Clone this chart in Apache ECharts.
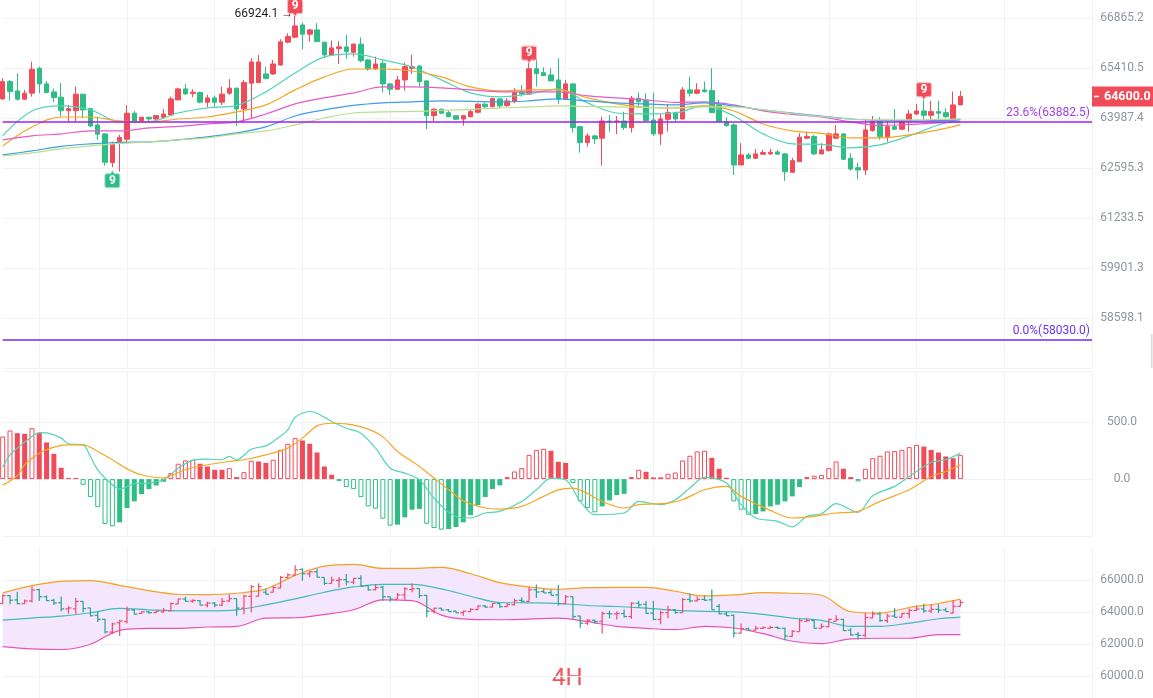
<!DOCTYPE html>
<html lang="en">
<head>
<meta charset="UTF-8">
<title>4H</title>
<script src="https://cdn.jsdelivr.net/npm/echarts@6/dist/echarts.min.js"></script>
<style>
    html, body { margin: 0; padding: 0; background: #fff; }
    #main { width: 1153px; height: 698px; }
</style>
</head>
<body>
<div id="main"></div>
<script>
// x slots (the right part of the axis stays empty)
const categories = Array.from({ length: 150 }, (_, i) => String(i));

// candles: [open, close, low, high]
const candles = [
    [64528, 65020, 64499, 65117], [65020, 64736, 64479, 65068], [64755, 64519, 64479, 65259], [64519, 64690, 64499, 64784],
    [64690, 65373, 64593, 65594], [65401, 64955, 64690, 65448], [64955, 64707, 64690, 65040], [64727, 64565, 64434, 64821],
    [64576, 64195, 64024, 64975], [64195, 64252, 63884, 64357], [64195, 64662, 63884, 64878], [64662, 64215, 63979, 64670],
    [64252, 63764, 63728, 64252], [63792, 63533, 63375, 64024], [63542, 62754, 62660, 63561], [62743, 63255, 62615, 63327],
    [63327, 63439, 62494, 63514], [63394, 64122, 63283, 64349], [64122, 63867, 63840, 64186], [63912, 64008, 63884, 64024],
    [64008, 63960, 63884, 64024], [63960, 64053, 63932, 64072], [64008, 64101, 63960, 64243], [64072, 64528, 64053, 64593],
    [64499, 64812, 64499, 64849], [64812, 64670, 64642, 64946], [64679, 64718, 64576, 64804], [64707, 64434, 64405, 64736],
    [64434, 64556, 64292, 64642], [64556, 64434, 64292, 64622], [64434, 64662, 64357, 64878], [64690, 64832, 64642, 65088],
    [64832, 64243, 63764, 64849], [64243, 64992, 63857, 65068], [64975, 65585, 63979, 65693], [64992, 65585, 64975, 65789],
    [65239, 65106, 65097, 65448], [65239, 65527, 65211, 65643], [65498, 66167, 65478, 66245], [66158, 66321, 66129, 66420],
    [66304, 66632, 66275, 66924.1], [66661, 66391, 65955, 66728], [66391, 66516, 66176, 66545], [66516, 66176, 66158, 66711],
    [66158, 65789, 65693, 66158], [65789, 65992, 65789, 66205], [65972, 66021, 65527, 66187], [66021, 65885, 65672, 66379],
    [65867, 66100, 65739, 66129], [66100, 65623, 65576, 66292], [65643, 65382, 65333, 65663], [65390, 65527, 65353, 65739],
    [65547, 64955, 64707, 65643], [64955, 64804, 64642, 64975], [64804, 65068, 64784, 65182], [65068, 65448, 64764, 65565],
    [65401, 65448, 65239, 65789], [65468, 65020, 64861, 65488], [65040, 64053, 63672, 65068], [64053, 64235, 63884, 64263],
    [64235, 64122, 64101, 64263], [64138, 64024, 64008, 64186], [64053, 63951, 63932, 64072], [63960, 64053, 63773, 64072],
    [64024, 64167, 64008, 64235], [64149, 64377, 64122, 64405], [64377, 64309, 64263, 64423], [64309, 64536, 64292, 64565],
    [64528, 64329, 64263, 64548], [64337, 64471, 64309, 64548], [64451, 64707, 64405, 64832], [64727, 64670, 64593, 64926],
    [64662, 65390, 64642, 65565], [65390, 65248, 64878, 65722], [65277, 65191, 65182, 65430], [65211, 65040, 65040, 65401],
    [65068, 64519, 64386, 65693], [64519, 64955, 64499, 65068], [64955, 63717, 63578, 64975], [63745, 63299, 63021, 63764],
    [63299, 63486, 63188, 63561], [63486, 63402, 63263, 63514], [63422, 63904, 62660, 64024], [63904, 63884, 63606, 64072],
    [63884, 63904, 63533, 64044], [63904, 63717, 63653, 64167], [63717, 64548, 63578, 64613], [64548, 64451, 64281, 64707],
    [64480, 63912, 63884, 64690], [63932, 63542, 63486, 64707], [63542, 63960, 63235, 64101], [63951, 64138, 63606, 64386],
    [64138, 63960, 63884, 64167], [63960, 64784, 63951, 64861], [64784, 64690, 64593, 65163], [64690, 64784, 64662, 64975],
    [64784, 64736, 64707, 65020], [64764, 64138, 64138, 65401], [64357, 63884, 63867, 64499], [63884, 63773, 63745, 64008],
    [63792, 62679, 62404, 63840], [62679, 62957, 62679, 63283], [62957, 62865, 62846, 63013], [62865, 62985, 62846, 63124],
    [62977, 63021, 62957, 63096], [62985, 63032, 62957, 63124], [63040, 62977, 62957, 63096], [62985, 62494, 62241, 63013],
    [62478, 62798, 62451, 62874], [62771, 63450, 62771, 63561], [63422, 63467, 63402, 63606], [63467, 62985, 62957, 63514],
    [62985, 63096, 62977, 63283], [63077, 63542, 63049, 63578], [63422, 63542, 63402, 63792], [63542, 62837, 62818, 63561],
    [62865, 62568, 62522, 63004], [62604, 62541, 62287, 62743], [62541, 63653, 62404, 63932], [63634, 63884, 63606, 64044],
    [63884, 63467, 63375, 64008], [63467, 63745, 63327, 63884], [63745, 63672, 63653, 64243], [63672, 63904, 63653, 63932],
    [63904, 64101, 63606, 64215], [64101, 64186, 64072, 64386], [64186, 64064, 63932, 64519], [64064, 64167, 63932, 64471],
    [64167, 64122, 63932, 64480], [64138, 64024, 63996, 64263], [63932, 64357, 63912, 64736], [64357, 64600, 64349, 64755]
];

const mainTickLabels = ['58598.1', '59901.3', '61233.5', '62595.3', '63987.4', '65410.5', '66865.2'];

// moving averages / bollinger read every 4th candle
const sampleIdx = [0, 4, 8, 12, 16, 20, 24, 28, 32, 36, 40, 44, 48, 52, 56, 60, 64, 68, 72, 76, 80, 84, 88, 92, 96, 100, 104, 108, 112, 116, 120, 124, 128, 131];
const maTeal = [63486, 64186, 64329, 64215, 63884, 63884, 64129, 64272, 64343, 64727, 65268, 65731, 65818, 65643, 65439, 65069, 64699, 64585, 64670, 64812, 64414, 64129, 64101, 64129, 64329, 64044, 63542, 63263, 63249, 63152, 63235, 63486, 63792, 63960];
const maOrange = [63207, 63737, 64015, 64015, 63904, 63876, 63959, 64015, 64158, 64357, 64784, 65154, 65382, 65382, 65325, 65154, 64869, 64755, 64784, 64784, 64556, 64385, 64286, 64272, 64329, 64186, 63820, 63625, 63555, 63430, 63430, 63514, 63653, 63792];
const maPink = [63375, 63486, 63542, 63625, 63625, 63709, 63750, 63820, 63876, 64101, 64386, 64556, 64699, 64869, 64869, 64841, 64784, 64727, 64727, 64727, 64613, 64556, 64499, 64428, 64442, 64357, 64186, 64087, 64015, 63876, 63779, 63806, 63848, 63876];
const maBlue = [62957, 63068, 63194, 63263, 63305, 63319, 63375, 63458, 63569, 63737, 64044, 64215, 64343, 64414, 64442, 64471, 64457, 64442, 64471, 64528, 64471, 64414, 64386, 64357, 64414, 64329, 64215, 64129, 64044, 63960, 63918, 63904, 63918, 63932];
const maLime = [62929, 63013, 63124, 63208, 63277, 63319, 63375, 63430, 63542, 63625, 63792, 63987, 64129, 64158, 64172, 64201, 64229, 64272, 64300, 64329, 64314, 64300, 64286, 64272, 64300, 64300, 64215, 64115, 64030, 63960, 63932, 63932, 63946, 63960];

const bbUpper = [65193, 65648, 65917, 65959, 65669, 65338, 65110, 65090, 65172, 65441, 66290, 66869, 66972, 66724, 66724, 66786, 66393, 65834, 65565, 65421, 65524, 65545, 65545, 65296, 65007, 65069, 65214, 65172, 65048, 64014, 63931, 64283, 64531, 64800];
const bbMid = [63496, 63620, 63745, 63952, 64221, 64138, 64076, 64076, 64138, 64448, 64821, 65234, 65565, 65731, 65731, 65441, 64986, 64593, 64572, 64531, 64407, 64345, 64241, 64097, 64034, 64014, 63848, 63620, 63476, 63103, 63103, 63310, 63579, 63683];
const bbLower = [61841, 61696, 61655, 61986, 62855, 62979, 62979, 63062, 63103, 63620, 63641, 63848, 64138, 64759, 64717, 63807, 63538, 63517, 63559, 63620, 63393, 63103, 62979, 62896, 63103, 62999, 62648, 62172, 62027, 62317, 62358, 62358, 62586, 62586];

const fibLevels = [
    { name: '23.6%', value: 63882.5 },
    { name: '0.0%', value: 58030.0 }
];
const lastPrice = 64600.0;
const peakIdx = 40;
const sellNine = [40, 72, 126];
const buyNine = [15];

const macdHist = [
    374, 427, 404, 398, 447, 404, 322, 222, 99, 9, 9, -50, -158, -246, -395, -415, -380, -254, -196, -132,
    -88, -56, -23, 53, 135, 164, 170, 135, 111, 82, 82, 96, 18, 61, 161, 155, 143, 170, 257, 310,
    360, 339, 310, 234, 111, 38, -18, -70, -88, -158, -240, -260, -348, -409, -400, -336, -269, -262, -392, -430,
    -444, -439, -421, -380, -316, -228, -158, -88, -55, 18, 67, 96, 213, 257, 266, 249, 152, 143, -35, -196,
    -254, -292, -240, -187, -140, -129, 18, 82, 64, 15, 15, 47, 58, 164, 205, 243, 249, 187, 91, 12,
    -196, -269, -313, -307, -284, -240, -225, -196, -152, -70, 18, 29, 35, 96, 155, 91, 18, -20, 91, 184,
    205, 243, 246, 257, 281, 301, 286, 257, 234, 199, 184, 213
];
// [candle index, value]
const macdDif = [[0, 105], [1, 213], [2, 272], [4, 374], [5, 409], [6, 406], [8, 360], [9, 310], [11, 301], [12, 199], [13, 82], [15, -50], [16, -88], [18, -41], [20, -35], [22, -6], [24, 96], [26, 164], [28, 175], [30, 170], [31, 199], [32, 170], [34, 263], [36, 292], [37, 330], [39, 433], [40, 544], [42, 594], [43, 579], [45, 506], [47, 447], [49, 404], [51, 272], [53, 96], [55, 53], [57, -6], [59, -167], [61, -292], [63, -342], [64, -342], [66, -298], [68, -284], [71, -196], [73, -94], [75, 9], [77, -6], [79, -196], [81, -313], [85, -298], [87, -196], [90, -225], [92, -181], [94, -79], [96, 18], [99, -35], [101, -225], [103, -342], [106, -371], [108, -421], [110, -327], [112, -304], [114, -216], [117, -292], [119, -146], [122, -64], [124, 23], [127, 146], [129, 170], [131, 228]];
const macdDea = [[0, -53], [2, 30], [3, 126], [5, 228], [7, 281], [9, 301], [11, 301], [13, 243], [15, 170], [17, 90], [19, 38], [22, 9], [23, 29], [25, 82], [28, 126], [31, 155], [33, 170], [36, 213], [39, 272], [41, 360], [43, 468], [45, 491], [47, 485], [50, 439], [52, 371], [54, 243], [57, 111], [59, 9], [61, -94], [63, -191], [66, -254], [68, -263], [71, -240], [74, -152], [76, -94], [78, -79], [82, -196], [85, -254], [87, -225], [91, -211], [93, -181], [96, -94], [99, -64], [101, -152], [105, -275], [108, -342], [111, -327], [114, -298], [117, -284], [120, -196], [124, -94], [127, 23], [129, 67], [131, 126]];

// ---- chart ----
const RED = '#f04b59';
const GREEN = '#2ebd85';
const GRID_LINE = '#f1f2f4';
const LABEL = '#8e959f';

// main panel is a log scale: one tick step per label
const Y_BASE = 58598.1;
const Y_STEP = Math.log(66865.2 / 58598.1) / 6;
const ty = p => Math.log(p / Y_BASE) / Y_STEP;

const pairs = (vals, f) => sampleIdx.map((i, k) => [i, f ? f(vals[k]) : vals[k]]);

function xAxisFor(gridIndex) {
    return {
        type: 'category', gridIndex: gridIndex, data: categories, boundaryGap: false,
        axisLine: { show: false }, axisTick: { show: false }, axisLabel: { show: false },
        splitLine: { show: true, interval: (i) => (i - 5) % 12 === 0, lineStyle: { color: GRID_LINE } }
    };
}

function maLine(name, vals, color) {
    return {
        name: name, type: 'line', xAxisIndex: 0, yAxisIndex: 0,
        data: pairs(vals, ty), smooth: 0.35, showSymbol: false, silent: true,
        lineStyle: { color: color, width: 1.2 }, z: 3
    };
}

const sellPath = 'path://M2,0 H13 A2,2 0 0 1 15,2 V12 A2,2 0 0 1 13,14 H9.5 L7.5,17 L5.5,14 H2 A2,2 0 0 1 0,12 V2 A2,2 0 0 1 2,0 Z';
const buyPath = 'path://M7.5,0 L9.5,3 H13 A2,2 0 0 1 15,5 V15 A2,2 0 0 1 13,17 H2 A2,2 0 0 1 0,15 V5 A2,2 0 0 1 2,3 H5.5 Z';

const histData = macdHist.map((v, i) => {
    const prev = i > 0 ? macdHist[i - 1] : 0;
    const col = v >= 0 ? RED : GREEN;
    const hollow = i === 0 || prev * v < 0 || Math.abs(v) > Math.abs(prev);
    return {
        value: v,
        itemStyle: hollow ? { color: '#fff', borderColor: col, borderWidth: 1 } : { color: col }
    };
});

const chart = echarts.init(document.getElementById('main'));
chart.setOption({
    animation: false,
    backgroundColor: '#fff',
    textStyle: { fontFamily: 'Roboto, sans-serif' },
    grid: [
        { left: 2.7, right: 61, top: 0, height: 368 },
        { left: 2.7, right: 61, top: 371, height: 165 },
        { left: 2.7, right: 61, top: 548, height: 128 },
        { left: 2.7, right: 61, top: 676, height: 22 }
    ],
    xAxis: [xAxisFor(0), xAxisFor(1), xAxisFor(2), xAxisFor(3)],
    yAxis: [
        {
            type: 'value', gridIndex: 0, position: 'right', min: -1, max: 6.36, interval: 1,
            axisLine: { show: false }, axisTick: { show: false },
            axisLabel: {
                margin: 30, align: 'center', color: LABEL, fontSize: 12,
                formatter: v => {
                    const k = Math.round(v);
                    return (Math.abs(v - k) < 1e-6 && k >= 0 && k < mainTickLabels.length) ? mainTickLabels[k] : '';
                }
            },
            splitLine: { lineStyle: { color: GRID_LINE }, showMaxLine: false }
        },
        {
            type: 'value', gridIndex: 1, position: 'right', min: -500, max: 950, interval: 500,
            axisLine: { show: false }, axisTick: { show: false },
            axisLabel: {
                margin: 30, align: 'center', color: LABEL, fontSize: 12,
                formatter: v => (v === 0 || v === 500) ? v.toFixed(1) : ''
            },
            splitLine: { lineStyle: { color: GRID_LINE } }
        },
        {
            type: 'value', gridIndex: 2, position: 'right', min: 60000, max: 68000, interval: 2000,
            axisLine: { show: false }, axisTick: { show: false },
            axisLabel: {
                margin: 30, align: 'center', color: LABEL, fontSize: 12,
                formatter: v => (v >= 60000 && v <= 66000) ? v.toFixed(1) : ''
            },
            splitLine: { lineStyle: { color: GRID_LINE }, showMaxLine: false }
        },
        { type: 'value', gridIndex: 3, min: 0, max: 1, show: false }
    ],
    series: [
        {
            name: 'K', type: 'candlestick', xAxisIndex: 0, yAxisIndex: 0,
            data: candles.map(c => c.map(ty)), barWidth: 5,
            itemStyle: { color: RED, color0: GREEN, borderColor: RED, borderColor0: GREEN, borderWidth: 1 },
            markPoint: {
                symbol: 'circle', symbolSize: 0, silent: true,
                data: [{
                    coord: [peakIdx, ty(candles[peakIdx][3])],
                    label: {
                        show: true, position: 'left', distance: 2, offset: [0, -2],
                        color: '#1f1f1f', fontSize: 12,
                        formatter: candles[peakIdx][3].toFixed(1) + ' →'
                    }
                }]
            },
            markLine: {
                symbol: 'none', silent: true, animation: false,
                data: [
                    {
                        yAxis: ty(fibLevels[0].value),
                        lineStyle: { color: '#a21ff0', width: 1.5, type: 'solid' },
                        label: { position: 'insideEndTop', color: '#a43de8', fontSize: 12, distance: [2, 3],
                            formatter: fibLevels[0].name + '(' + fibLevels[0].value.toFixed(1) + ')' }
                    },
                    {
                        yAxis: ty(fibLevels[1].value),
                        lineStyle: { color: '#7427f3', width: 1.5, type: 'solid' },
                        label: { position: 'insideEndTop', color: '#6f34f0', fontSize: 12, distance: [2, 3],
                            formatter: fibLevels[1].name + '(' + fibLevels[1].value.toFixed(1) + ')' }
                    },
                    {
                        yAxis: ty(lastPrice),
                        lineStyle: { width: 0, color: 'rgba(0,0,0,0)' },
                        label: {
                            show: true, position: 'end', distance: 0,
                            backgroundColor: RED, padding: [3, 9, 3, 2],
                            formatter: '{d|}{v|' + lastPrice.toFixed(1) + '}',
                            rich: {
                                d: { width: 5, height: 1.5, backgroundColor: '#fff' },
                                v: { color: '#fff', fontWeight: 'bold', fontSize: 12.5, padding: [0, 0, 0, 5], lineHeight: 14 }
                            }
                        }
                    }
                ]
            },
            z: 2
        },
        maLine('MA1', maTeal, '#52d4b8'),
        maLine('MA2', maOrange, '#f5a623'),
        maLine('MA3', maPink, '#e65bc9'),
        maLine('MA4', maBlue, '#3d9de6'),
        maLine('MA5', maLime, '#b7e08e'),
        {
            name: 'sell9', type: 'scatter', xAxisIndex: 0, yAxisIndex: 0, silent: true, clip: false,
            data: sellNine.map(i => [i, ty(candles[i][3])]),
            symbol: sellPath, symbolSize: [15, 17], symbolOffset: [0, -8],
            itemStyle: { color: RED, borderColor: '#f8b8bd', borderWidth: 1, opacity: 1 },
            label: { show: true, position: 'inside', formatter: '9', color: '#fff', fontWeight: 'bold', fontSize: 12, offset: [0, -1.5] },
            z: 5
        },
        {
            name: 'buy9', type: 'scatter', xAxisIndex: 0, yAxisIndex: 0, silent: true,
            data: buyNine.map(i => [i, ty(candles[i][2])]),
            symbol: buyPath, symbolSize: [15, 17], symbolOffset: [0, 12],
            itemStyle: { color: GREEN, borderColor: '#a6e3cc', borderWidth: 1, opacity: 1 },
            label: { show: true, position: 'inside', formatter: '9', color: '#fff', fontWeight: 'bold', fontSize: 12, offset: [0, 1.5] },
            z: 5
        },
        {
            name: 'MACD', type: 'bar', xAxisIndex: 1, yAxisIndex: 1,
            data: histData, barWidth: 5, silent: true
        },
        {
            name: 'DIF', type: 'line', xAxisIndex: 1, yAxisIndex: 1, data: macdDif,
            smooth: 0.3, showSymbol: false, silent: true, lineStyle: { color: '#52d4b8', width: 1.2 }, z: 3
        },
        {
            name: 'DEA', type: 'line', xAxisIndex: 1, yAxisIndex: 1, data: macdDea,
            smooth: 0.3, showSymbol: false, silent: true, lineStyle: { color: '#f5a623', width: 1.2 }, z: 3
        },
        {
            name: 'bbBase', type: 'line', xAxisIndex: 2, yAxisIndex: 2, stack: 'bb',
            data: pairs(bbLower), smooth: 0.35, showSymbol: false, silent: true,
            lineStyle: { opacity: 0 }, z: 1
        },
        {
            name: 'bbBand', type: 'line', xAxisIndex: 2, yAxisIndex: 2, stack: 'bb',
            data: sampleIdx.map((i, k) => [i, bbUpper[k] - bbLower[k]]), smooth: 0.35, showSymbol: false, silent: true,
            lineStyle: { opacity: 0 }, areaStyle: { color: '#f4e6fd', opacity: 1 }, z: 1
        },
        {
            name: 'UP', type: 'line', xAxisIndex: 2, yAxisIndex: 2, data: pairs(bbUpper),
            smooth: 0.35, showSymbol: false, silent: true, lineStyle: { color: '#f5a020', width: 1.2 }, z: 2
        },
        {
            name: 'MB', type: 'line', xAxisIndex: 2, yAxisIndex: 2, data: pairs(bbMid),
            smooth: 0.35, showSymbol: false, silent: true, lineStyle: { color: '#41bcb8', width: 1.2 }, z: 2
        },
        {
            name: 'DN', type: 'line', xAxisIndex: 2, yAxisIndex: 2, data: pairs(bbLower),
            smooth: 0.35, showSymbol: false, silent: true, lineStyle: { color: '#e852b8', width: 1.2 }, z: 2
        },
        {
            name: 'OHLC', type: 'custom', xAxisIndex: 2, yAxisIndex: 2, silent: true,
            data: candles.map((c, i) => [i, c[0], c[1], c[2], c[3]]),
            encode: { x: 0, y: [1, 2, 3, 4] },
            renderItem: (params, api) => {
                const i = api.value(0);
                const o = api.coord([i, api.value(1)]);
                const c = api.coord([i, api.value(2)]);
                const l = api.coord([i, api.value(3)]);
                const h = api.coord([i, api.value(4)]);
                const col = api.value(2) >= api.value(1) ? '#ee4d6a' : '#26a48e';
                const style = { stroke: col, lineWidth: 1.2 };
                return {
                    type: 'group',
                    children: [
                        { type: 'line', shape: { x1: h[0], y1: h[1], x2: l[0], y2: l[1] }, style: style },
                        { type: 'line', shape: { x1: o[0] - 3, y1: o[1], x2: o[0], y2: o[1] }, style: style },
                        { type: 'line', shape: { x1: c[0], y1: c[1], x2: c[0] + 3, y2: c[1] }, style: style }
                    ]
                };
            },
            z: 3
        }
    ],
    graphic: [
        { type: 'text', left: 552, top: 667, style: { text: '4H', fontSize: 24, fill: '#f2545b', fontFamily: 'Roboto, sans-serif' } },
        { type: 'rect', left: 1151, top: 334, shape: { width: 1.5, height: 34 }, style: { fill: '#d9d9d9' } }
    ]
});
</script>
</body>
</html>
